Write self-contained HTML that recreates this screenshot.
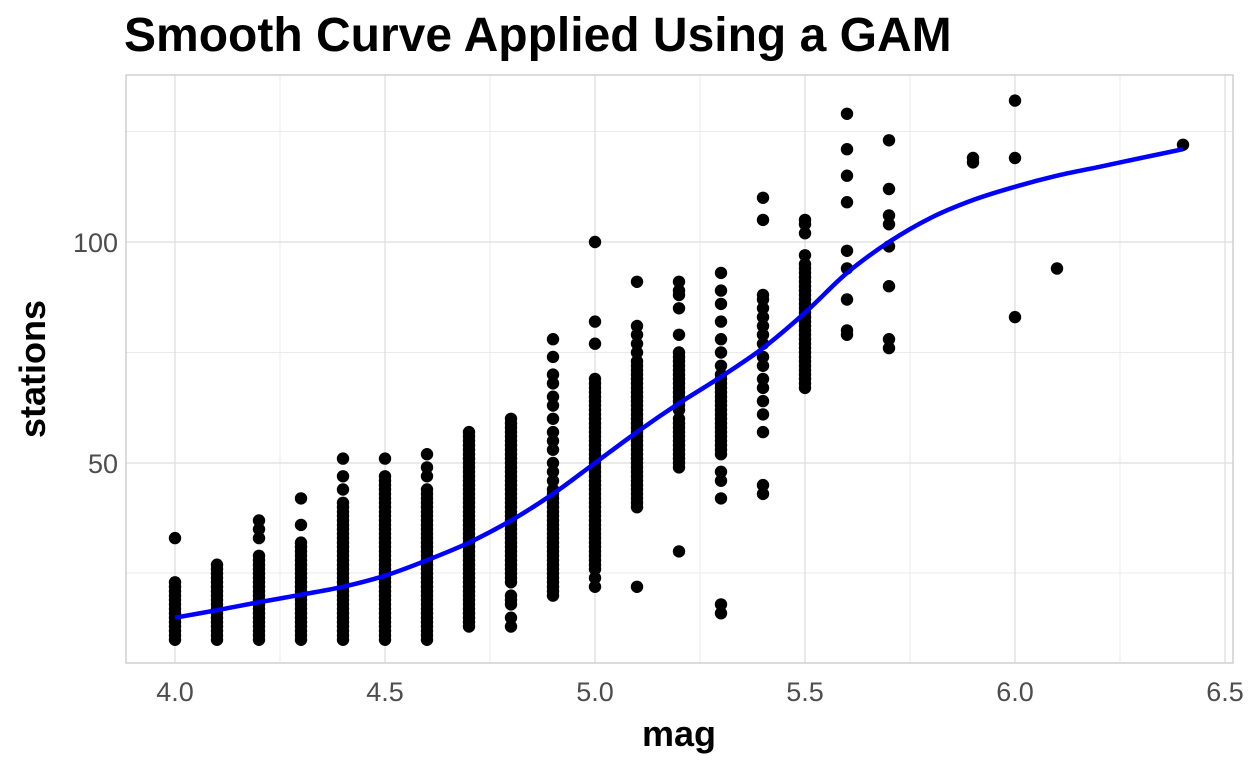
<!DOCTYPE html>
<html><head><meta charset="utf-8"><style>
body{margin:0;background:#fff;}
svg text{font-family:"Liberation Sans",sans-serif;}
</style></head><body>
<svg id="s" width="1248" height="768" xmlns="http://www.w3.org/2000/svg">
<rect width="1248" height="768" fill="#fff"/>
<text x="124" y="51" font-size="48" font-weight="bold" fill="#000">Smooth Curve Applied Using a GAM</text>
<g stroke="#ebebeb" stroke-width="1">
<line x1="280" x2="280" y1="75" y2="663"/><line x1="490" x2="490" y1="75" y2="663"/><line x1="700" x2="700" y1="75" y2="663"/><line x1="910" x2="910" y1="75" y2="663"/><line x1="1120" x2="1120" y1="75" y2="663"/>
<line x1="126" x2="1233" y1="573" y2="573"/><line x1="126" x2="1233" y1="352.5" y2="352.5"/><line x1="126" x2="1233" y1="131.5" y2="131.5"/>
</g>
<g stroke="#dedede" stroke-width="1.3">
<line x1="175" x2="175" y1="75" y2="663"/><line x1="385" x2="385" y1="75" y2="663"/><line x1="595" x2="595" y1="75" y2="663"/><line x1="805" x2="805" y1="75" y2="663"/><line x1="1015" x2="1015" y1="75" y2="663"/><line x1="1225" x2="1225" y1="75" y2="663"/>
<line x1="126" x2="1233" y1="463" y2="463"/><line x1="126" x2="1233" y1="242" y2="242"/>
</g>
<rect x="126" y="75" width="1107" height="588" fill="none" stroke="#c8c8c8" stroke-width="1.3"/>
<g id="pts" fill="#000"></g>
<path id="curve" fill="none" stroke="#0000ff" stroke-width="4.5"/>
<g font-size="27" fill="#4d4d4d" text-anchor="middle">
<text x="175" y="701">4.0</text><text x="385" y="701">4.5</text><text x="595" y="701">5.0</text><text x="805" y="701">5.5</text><text x="1015" y="701">6.0</text><text x="1225" y="701">6.5</text>
</g>
<g font-size="27" fill="#4d4d4d" text-anchor="end">
<text x="118" y="252">100</text><text x="118" y="473">50</text>
</g>
<text x="679" y="746" font-size="36" font-weight="bold" text-anchor="middle">mag</text>
<text transform="translate(45,369) rotate(-90)" font-size="36" font-weight="bold" text-anchor="middle">stations</text>
</svg>
<script>
function X(m){return 175+(m-4)*420}
function Y(v){return 684-v*4.42}
var R=function(a,b){var r=[];for(var i=a;i<=b;i++)r.push(i);return r};
var d={
4.0:R(10,23).concat([33]),
4.1:R(10,27),
4.2:R(10,29).concat([33,35,37]),
4.3:R(10,32).concat([36,42]),
4.4:R(10,41).concat([44,47,51]),
4.5:R(10,47).concat([51]),
4.6:R(10,44).concat([47,49,52]),
4.7:R(13,57),
4.8:[13,15,18,19,20].concat(R(23,60)),
4.9:R(20,44).concat([46,48,50,53,55,57,60,63,65,68,70,74,78]),
5.0:[22,24].concat(R(26,69),[77,82,100]),
5.1:[22].concat(R(40,73),[75,77,79,81,91]),
5.2:[30].concat(R(49,60),R(62,75),[79,85,88,89,91]),
5.3:[16,18,42,46,48].concat(R(52,70),[72,75,78,82,86,89,93]),
5.4:[43,45,57,61,64,67,69,72,74,77,79,81,83,85,87,88,105,110],
5.5:R(67,95).concat([97,102,104,105]),
5.6:[79,80,87,94,98,109,115,121,129],
5.7:[76,78,90,99,104,106,112,123],
5.9:[118,119],6.0:[83,119,132],6.1:[94],6.4:[122]};
var g=document.getElementById('pts'),h='';
for(var k in d){d[k].forEach(function(v){h+='<circle cx="'+X(+k)+'" cy="'+Y(v).toFixed(1)+'" r="6.2"/>';});}
g.innerHTML=h;
var c=[[4.0,15],[4.1,16.7],[4.2,18.5],[4.3,20.2],[4.4,22],[4.5,24.5],[4.6,28],[4.7,32],[4.8,37],[4.9,43],[5.0,50],[5.1,57],[5.2,63.5],[5.3,69.5],[5.4,76],[5.5,84],[5.6,93],[5.7,100],[5.8,105.5],[5.9,109.5],[6.0,112.5],[6.1,115],[6.2,117],[6.3,119],[6.4,121]];
var P=c.map(function(q){return [X(q[0]),Y(q[1])]});
var p='M'+P[0][0]+','+P[0][1];
for(var i=0;i<P.length-1;i++){var p0=P[Math.max(i-1,0)],p1=P[i],p2=P[i+1],p3=P[Math.min(i+2,P.length-1)];
p+=' C'+(p1[0]+(p2[0]-p0[0])/6).toFixed(1)+','+(p1[1]+(p2[1]-p0[1])/6).toFixed(1)+' '+(p2[0]-(p3[0]-p1[0])/6).toFixed(1)+','+(p2[1]-(p3[1]-p1[1])/6).toFixed(1)+' '+p2[0].toFixed(1)+','+p2[1].toFixed(1);}
document.getElementById('curve').setAttribute('d',p);
</script>
</body></html>
